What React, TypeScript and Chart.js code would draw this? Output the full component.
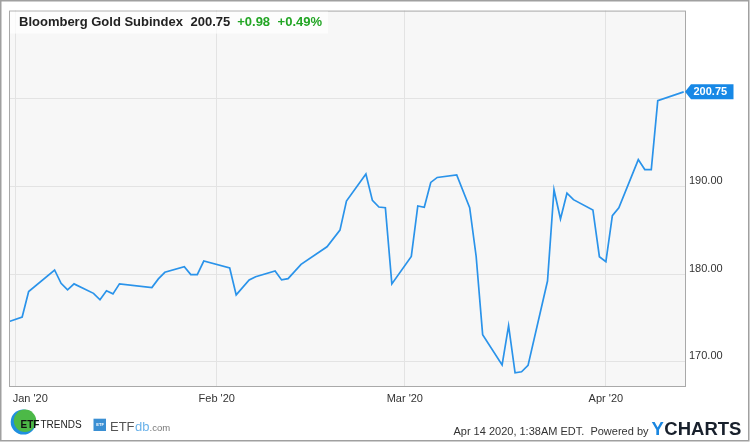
import React, { useEffect, useRef } from "react";
import { Chart, registerables } from "chart.js";

Chart.register(...registerables);

const DATES: string[] = [
  "2019-12-31", "2020-01-02", "2020-01-03", "2020-01-07", "2020-01-08", "2020-01-09", "2020-01-10",
  "2020-01-13", "2020-01-14", "2020-01-15", "2020-01-16", "2020-01-17", "2020-01-22", "2020-01-23",
  "2020-01-24", "2020-01-27", "2020-01-28", "2020-01-29", "2020-01-30", "2020-02-03", "2020-02-04",
  "2020-02-06", "2020-02-07", "2020-02-10", "2020-02-11", "2020-02-12", "2020-02-14", "2020-02-18",
  "2020-02-20", "2020-02-21", "2020-02-24", "2020-02-25", "2020-02-26", "2020-02-27", "2020-02-28",
  "2020-03-02", "2020-03-03", "2020-03-04", "2020-03-05", "2020-03-06", "2020-03-09", "2020-03-11",
  "2020-03-12", "2020-03-13", "2020-03-16", "2020-03-17", "2020-03-18", "2020-03-19", "2020-03-20",
  "2020-03-23", "2020-03-24", "2020-03-25", "2020-03-26", "2020-03-27", "2020-03-30", "2020-03-31",
  "2020-04-01", "2020-04-02", "2020-04-03", "2020-04-06", "2020-04-07", "2020-04-08", "2020-04-09",
  "2020-04-13",
];

const VALUES: number[] = [
  174.6, 175.1, 178.0, 180.46, 178.95, 178.2, 178.88,
  177.8, 177.07, 178.1, 177.74, 178.88, 178.46, 179.45,
  180.2, 180.84, 179.93, 179.93, 181.48, 180.69, 177.63,
  179.33, 179.7, 180.35, 179.33, 179.48, 181.1, 183.1,
  185.0, 188.31, 191.4, 188.39, 187.63, 187.55, 178.88,
  182.0, 187.75, 187.6, 190.43, 191.0, 191.29, 187.55,
  182.0, 173.1, 169.66, 174.12, 168.75, 168.87, 169.6,
  179.2, 189.6, 186.27, 189.2, 188.47, 187.3, 181.97,
  181.4, 186.65, 187.55, 193.03, 191.9, 191.9, 199.75,
  200.75,
];

const X_TICK_DATES: string[] = ["2020-01-01", "2020-02-01", "2020-03-01", "2020-04-01"];
const X_TICK_LABELS: string[] = ["Jan '20", "Feb '20", "Mar '20", "Apr '20"];
const Y_TICKS: number[] = [170, 180, 190, 200];

const TITLE_NAME = "Bloomberg Gold Subindex";
const TITLE_LAST = "200.75";
const TITLE_CHANGE = "+0.98";
const TITLE_PCT = "+0.49%";
const FOOTER_TEXT = "Apr 14 2020, 1:38AM EDT.  Powered by";

const FONT = '"Liberation Sans", Arial, Helvetica, sans-serif';
const LINE_COLOR = "#2a93ea";
const GREEN = "#22a524";

function dayNum(s: string): number {
  const [y, m, d] = s.split("-").map(Number);
  return (Date.UTC(y, m - 1, d) - Date.UTC(2020, 0, 1)) / 86400000;
}

const framePlugin = {
  id: "ychartsFrame",
  beforeDraw(chart: any) {
    const { ctx, chartArea: a, width, height } = chart;
    ctx.save();
    ctx.fillStyle = "#ffffff";
    ctx.fillRect(0, 0, width, height);
    ctx.fillStyle = "#f7f7f7";
    ctx.fillRect(a.left, a.top, a.right - a.left, a.bottom - a.top);
    ctx.restore();
  },
  afterDraw(chart: any) {
    const { ctx, chartArea: a, scales } = chart;
    const xs = scales.x;
    const ys = scales.y;
    ctx.save();
    // plot frame
    ctx.strokeStyle = "#a9a9a9";
    ctx.lineWidth = 1;
    ctx.strokeRect(a.left + 0.5, a.top + 0.5, a.right - a.left, a.bottom - a.top);
    // outer border
    ctx.strokeStyle = "#a0a0a0";
    ctx.lineWidth = 1.5;
    ctx.strokeRect(0.75, 0.75, 748, 440);

    // x labels
    ctx.font = `11px ${FONT}`;
    ctx.fillStyle = "#333333";
    ctx.textBaseline = "middle";
    ctx.textAlign = "left";
    X_TICK_DATES.forEach((d, i) => {
      const px = xs.getPixelForValue(dayNum(d));
      const w = ctx.measureText(X_TICK_LABELS[i]).width;
      const x = Math.max(px - w / 2, a.left + 3.7);
      ctx.fillText(X_TICK_LABELS[i], x, a.bottom + 12.5);
    });

    // title box
    ctx.fillStyle = "rgba(255,255,255,0.72)";
    ctx.fillRect(a.left + 1, a.top + 1, 318, 22);
    ctx.textBaseline = "alphabetic";
    let tx = a.left + 10;
    const ty = a.top + 15.5;
    ctx.font = `bold 13px ${FONT}`;
    ctx.fillStyle = "#222222";
    ctx.fillText(TITLE_NAME, tx, ty);
    tx += ctx.measureText(TITLE_NAME).width + 7.5;
    ctx.fillText(TITLE_LAST, tx, ty);
    tx += ctx.measureText(TITLE_LAST).width + 7;
    ctx.fillStyle = GREEN;
    ctx.fillText(TITLE_CHANGE, tx, ty);
    tx += ctx.measureText(TITLE_CHANGE).width + 7.5;
    ctx.fillText(TITLE_PCT, tx, ty);

    // last value callout
    const lastV = VALUES[VALUES.length - 1];
    const cy = ys.getPixelForValue(lastV);
    const cx = a.right;
    ctx.fillStyle = "#1788e6";
    ctx.beginPath();
    ctx.moveTo(cx, cy);
    ctx.lineTo(cx + 6, cy - 7.5);
    ctx.lineTo(cx + 48.5, cy - 7.5);
    ctx.lineTo(cx + 48.5, cy + 7.5);
    ctx.lineTo(cx + 6, cy + 7.5);
    ctx.closePath();
    ctx.fill();
    ctx.fillStyle = "#ffffff";
    ctx.font = `bold 11px ${FONT}`;
    ctx.textAlign = "left";
    ctx.textBaseline = "middle";
    ctx.fillText(lastV.toFixed(2), cx + 8.5, cy + 0.5);

    // ETF Trends logo
    ctx.fillStyle = "#1f8fe0";
    ctx.beginPath();
    ctx.arc(23.3, 422, 12.6, 0, Math.PI * 2);
    ctx.fill();
    ctx.fillStyle = "#4cb947";
    ctx.beginPath();
    ctx.arc(25, 420.8, 11.2, 0, Math.PI * 2);
    ctx.fill();
    ctx.textBaseline = "alphabetic";
    ctx.fillStyle = "#111111";
    ctx.font = `bold 10px ${FONT}`;
    ctx.fillText("ETF", 20.5, 428);
    ctx.font = `10px ${FONT}`;
    ctx.fillStyle = "#222222";
    ctx.fillText("TRENDS", 40.5, 428);

    // ETFdb logo
    ctx.fillStyle = "#3a8fd3";
    ctx.fillRect(93.5, 418.7, 12.5, 12.3);
    ctx.fillStyle = "#ffffff";
    ctx.font = `bold 4px ${FONT}`;
    ctx.fillText("ETF", 96.3, 426.4);
    ctx.font = `13px ${FONT}`;
    ctx.fillStyle = "#555555";
    let lx = 110;
    ctx.fillText("ETF", lx, 431);
    lx += ctx.measureText("ETF").width + 0.5;
    ctx.fillStyle = "#6ab2ea";
    ctx.fillText("db", lx, 431);
    lx += ctx.measureText("db").width;
    ctx.font = `9.5px ${FONT}`;
    ctx.fillStyle = "#777777";
    ctx.fillText(".com", lx, 431);

    // footer
    ctx.font = `11px ${FONT}`;
    ctx.fillStyle = "#333333";
    ctx.textAlign = "right";
    ctx.fillText(FOOTER_TEXT, 648.5, 434.5);
    ctx.textAlign = "left";
    ctx.font = `bold 18.5px ${FONT}`;
    ctx.fillStyle = "#1a86e0";
    ctx.fillText("Y", 651.5, 434.5);
    const yw = ctx.measureText("Y").width;
    ctx.fillStyle = "#18202c";
    ctx.fillText("CHARTS", 651.5 + yw + 0.5, 434.5);
    ctx.restore();
  },
};

export default function App() {
  const ref = useRef<HTMLCanvasElement | null>(null);

  useEffect(() => {
    document.body.style.margin = "0";
    const canvas = ref.current;
    if (!canvas) return;
    const points = DATES.map((d, i) => ({ x: dayNum(d), y: VALUES[i] }));
    const chart = new Chart(canvas, {
      type: "line",
      data: {
        datasets: [
          {
            data: points,
            borderColor: LINE_COLOR,
            borderWidth: 1.7,
            pointRadius: 0,
            tension: 0,
            fill: false,
          },
        ],
      },
      options: {
        animation: false,
        responsive: false,
        maintainAspectRatio: false,
        layout: { padding: { left: 9, top: 9, right: 0, bottom: 0 } },
        plugins: { legend: { display: false }, tooltip: { enabled: false }, title: { display: false } },
        scales: {
          x: {
            type: "linear",
            min: -1.03,
            max: 103.2,
            afterBuildTicks: (s: any) => {
              s.ticks = X_TICK_DATES.map((d) => ({ value: dayNum(d) }));
            },
            afterFit: (s: any) => {
              s.height = 56;
            },
            grid: { color: "#e3e3e3", lineWidth: 1, drawTicks: false },
            border: { display: false },
            ticks: { display: false },
          },
          y: {
            position: "right",
            min: 167.25,
            max: 210,
            afterBuildTicks: (s: any) => {
              s.ticks = Y_TICKS.map((v) => ({ value: v }));
            },
            afterFit: (s: any) => {
              s.width = 65;
            },
            grid: { color: "#e3e3e3", lineWidth: 1, drawTicks: false },
            border: { display: false },
            ticks: {
              padding: 4,
              labelOffset: -5.5,
              color: "#333333",
              font: { family: FONT, size: 11 },
              callback: (v: any) => Number(v).toFixed(2),
            },
          },
        },
      },
      plugins: [framePlugin],
    });
    return () => chart.destroy();
  }, []);

  return (
    <div style={{ position: "fixed", left: 0, top: 0, width: 750, height: 442 }}>
      <canvas ref={ref} width={750} height={442} style={{ display: "block", width: 750, height: 442 }} />
    </div>
  );
}
